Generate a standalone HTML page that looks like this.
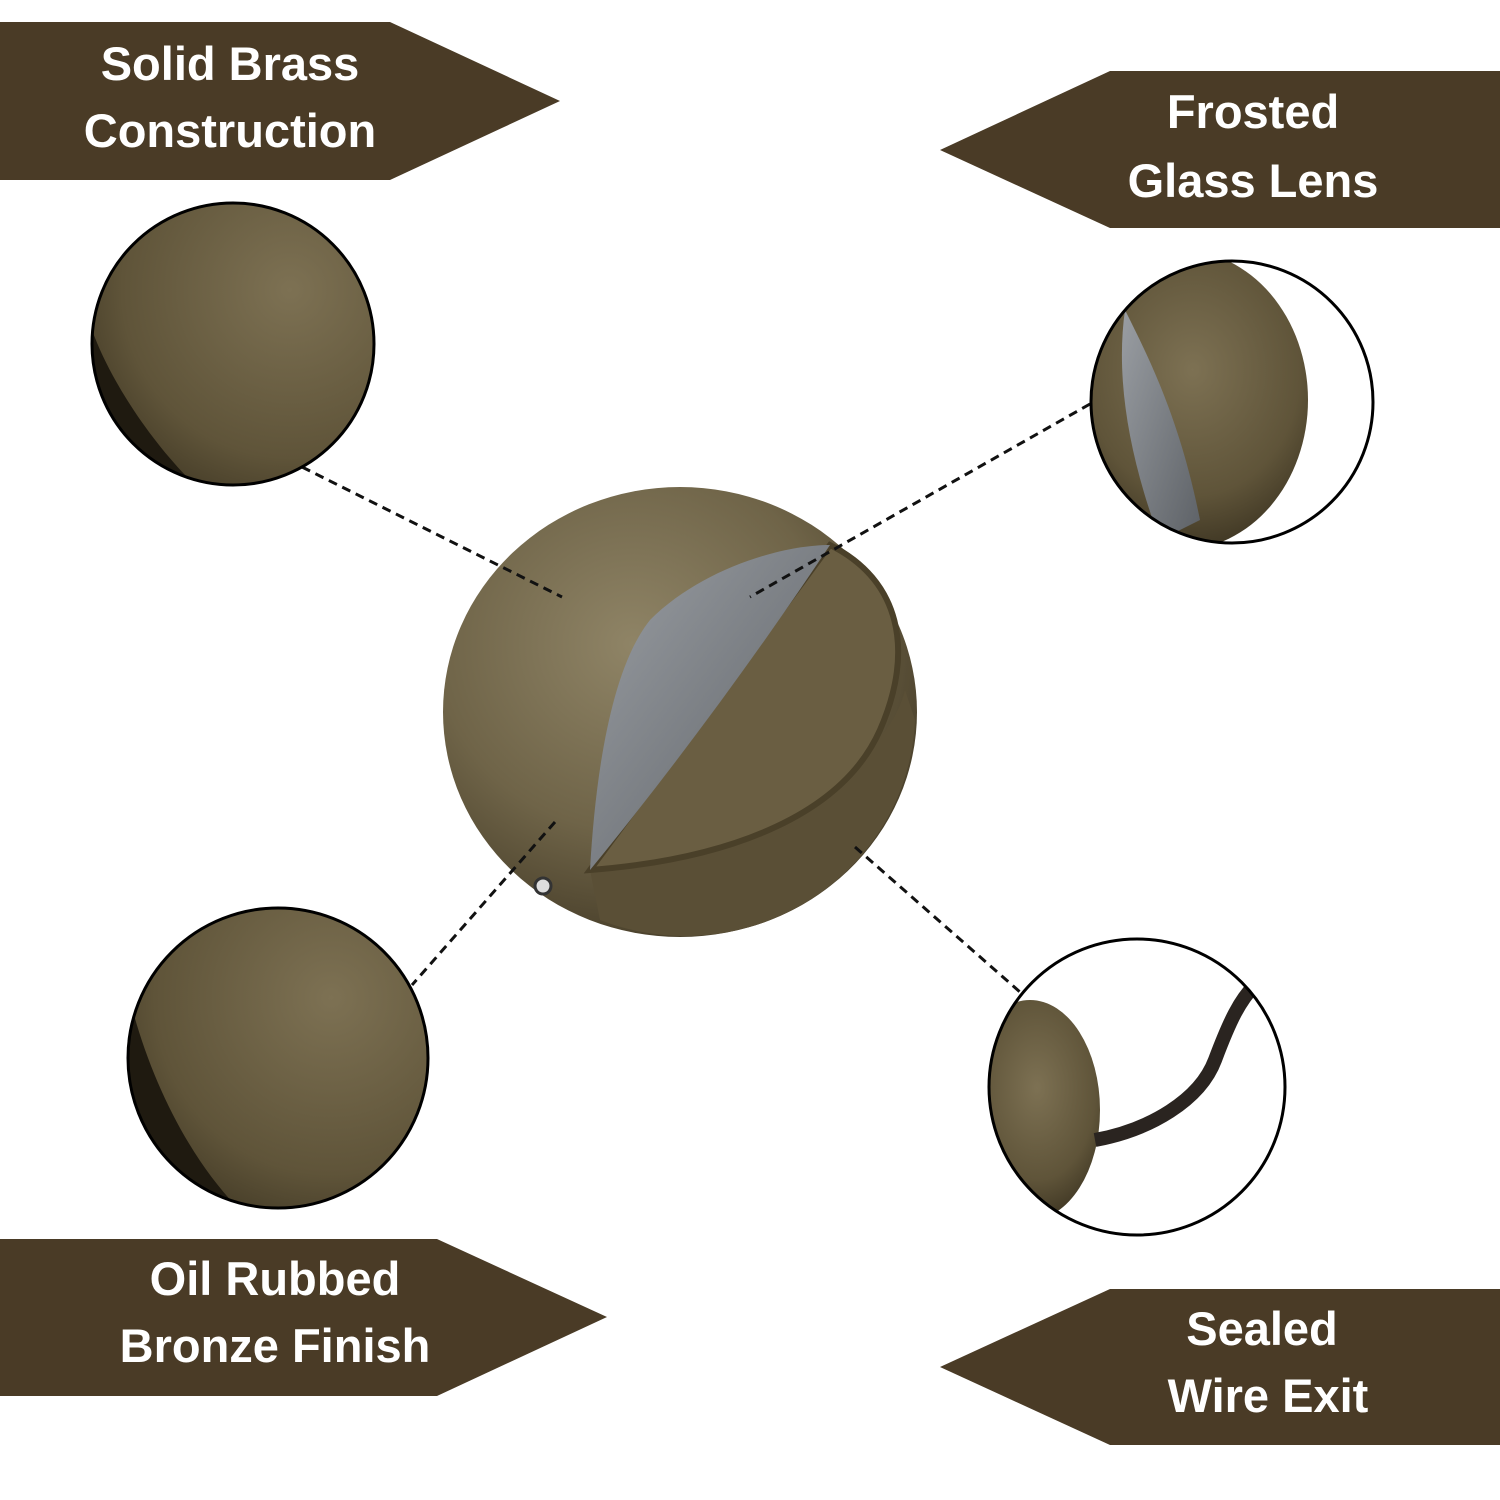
<!DOCTYPE html>
<html><head><meta charset="utf-8"><style>
html,body{margin:0;padding:0;background:#fff}
svg{display:block}
text{font-family:"Liberation Sans",sans-serif;font-weight:bold;fill:#fff;font-size:47px;text-anchor:middle}
</style></head><body>
<svg width="1500" height="1500" viewBox="0 0 1500 1500" xmlns="http://www.w3.org/2000/svg">
<defs>
<radialGradient id="brass" cx="0.4" cy="0.35" r="0.75">
<stop offset="0" stop-color="#8f8466"/><stop offset="0.55" stop-color="#6f6448"/><stop offset="1" stop-color="#3e3522"/>
</radialGradient>
<radialGradient id="brass2" cx="0.55" cy="0.4" r="0.7">
<stop offset="0" stop-color="#7d7153"/><stop offset="0.6" stop-color="#5f5439"/><stop offset="1" stop-color="#2e2718"/>
</radialGradient>
<linearGradient id="glass" x1="0" y1="0" x2="1" y2="1">
<stop offset="0" stop-color="#9a9ea3"/><stop offset="1" stop-color="#5d6166"/>
</linearGradient>
<clipPath id="c1"><circle cx="233" cy="344" r="141"/></clipPath>
<clipPath id="c2"><circle cx="1232" cy="402" r="141"/></clipPath>
<clipPath id="c3"><circle cx="278" cy="1058" r="150"/></clipPath>
<clipPath id="c4"><circle cx="1137" cy="1087" r="148"/></clipPath>
</defs>
<rect width="1500" height="1500" fill="#fff"/>
<!-- banners -->
<polygon points="0,22 390,22 560,101 390,180 0,180" fill="#4a3b26"/>
<text x="230" y="80">Solid Brass</text><text x="230" y="147">Construction</text>
<polygon points="1500,71 1110,71 940,150 1110,228 1500,228" fill="#4a3b26"/>
<text x="1253" y="128">Frosted</text><text x="1253" y="197">Glass Lens</text>
<polygon points="0,1239 437,1239 607,1317 437,1396 0,1396" fill="#4a3b26"/>
<text x="275" y="1295">Oil Rubbed</text><text x="275" y="1362">Bronze Finish</text>
<polygon points="1500,1289 1110,1289 940,1367 1110,1445 1500,1445" fill="#4a3b26"/>
<text x="1262" y="1345">Sealed</text><text x="1268" y="1412">Wire Exit</text>
<!-- main dome -->
<ellipse cx="680" cy="712" rx="237" ry="225" fill="url(#brass)"/>
<path d="M915,720 A230,225 0 0 1 600,920 L590,870 C700,850 880,790 905,690 Z" fill="#5a4f36"/>
<path d="M830,545 C900,580 915,650 880,730 C840,820 720,860 590,870 Z" fill="#6a5e42" stroke="#4a4029" stroke-width="6"/>
<path d="M830,545 C780,545 700,570 650,620 C610,670 595,780 590,870 C680,760 760,650 830,545 Z" fill="url(#glass)"/>
<circle cx="543" cy="886" r="8" fill="#ddd" stroke="#333" stroke-width="3"/>
<!-- dashed lines -->
<g stroke="#111" stroke-width="3" stroke-dasharray="9,6" fill="none">
<line x1="302" y1="467" x2="562" y2="597"/>
<line x1="1090" y1="404" x2="750" y2="597"/>
<line x1="555" y1="822" x2="412" y2="985"/>
<line x1="855" y1="847" x2="1020" y2="992"/>
</g>
<!-- circles -->
<g clip-path="url(#c1)"><rect x="80" y="190" width="310" height="310" fill="#fff"/><circle cx="270" cy="330" r="200" fill="url(#brass2)"/><path d="M92,330 C110,380 150,440 190,480 L80,500 Z" fill="#1f1a10"/></g>
<circle cx="233" cy="344" r="141" fill="none" stroke="#000" stroke-width="3"/>
<g clip-path="url(#c2)"><rect x="1080" y="250" width="310" height="310" fill="#fff"/><ellipse cx="1180" cy="400" rx="128" ry="150" fill="url(#brass2)"/><path d="M1125,310 C1150,360 1180,420 1200,520 L1160,540 C1130,460 1115,380 1125,310 Z" fill="url(#glass)"/></g>
<circle cx="1232" cy="402" r="141" fill="none" stroke="#000" stroke-width="3"/>
<g clip-path="url(#c3)"><rect x="120" y="900" width="320" height="320" fill="#fff"/><circle cx="310" cy="1040" r="210" fill="url(#brass2)"/><path d="M130,1000 C150,1080 190,1160 240,1210 L120,1220 Z" fill="#1f1a10"/></g>
<circle cx="278" cy="1058" r="150" fill="none" stroke="#000" stroke-width="3"/>
<g clip-path="url(#c4)"><rect x="985" y="935" width="310" height="310" fill="#fff"/><ellipse cx="1030" cy="1110" rx="70" ry="110" fill="url(#brass2)"/><path d="M1095,1140 C1150,1130 1200,1100 1215,1060 C1230,1020 1240,1000 1255,985" stroke="#2a2420" stroke-width="14" fill="none"/></g>
<circle cx="1137" cy="1087" r="148" fill="none" stroke="#000" stroke-width="3"/>
</svg>
</body></html>
